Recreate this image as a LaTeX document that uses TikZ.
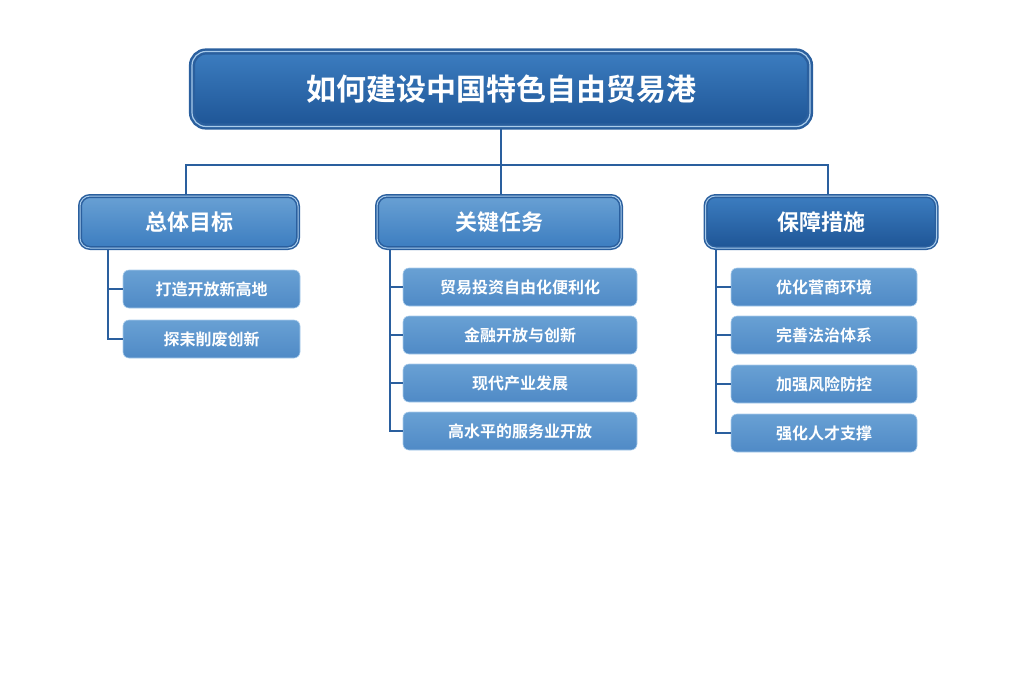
\documentclass[tikz,border=0pt]{standalone}
\usepackage{fontspec}
\setmainfont{Noto Sans CJK SC Bold}
\definecolor{darkb}{HTML}{1E5596}
\definecolor{midb}{HTML}{3C7DC0}
\definecolor{itemb}{HTML}{5896CF}
\definecolor{lineb}{HTML}{2A5F9E}
\definecolor{rimb}{HTML}{A9CCEB}
\begin{document}
\begin{tikzpicture}[x=1pt,y=-1pt,
  titlebox/.style = {draw=lineb, line width=2.5pt, double=rimb, double distance=1.2pt, rounded corners=14pt, top color=midb, bottom color=darkb, text=white, font=\fontsize{30}{34}\selectfont, minimum width=618pt, minimum height=75pt},
  catbox/.style = {draw=lineb, line width=1.5pt, double=rimb, double distance=1pt, rounded corners=10pt, top color=itemb!90, bottom color=midb, text=white, font=\fontsize{22}{26}\selectfont, minimum height=52pt},
  itembox/.style = {draw=rimb, line width=0.6pt, rounded corners=6pt, top color=itemb!90, bottom color=midb!90, text=white, font=\fontsize{16}{20}\selectfont, minimum height=38pt},
  link/.style = {lineb, line width=2.5pt}]
  \useasboundingbox (0,0) rectangle (1024,683);
  \node[titlebox] (t) at (501,89) {如何建设中国特色自由贸易港};
  \node[catbox, minimum width=218pt] (c1) at (189,222) {总体目标};
  \node[catbox, minimum width=244pt] (c2) at (499,222) {关键任务};
  \node[catbox, minimum width=231pt, top color=midb, bottom color=darkb] (c3) at (821,222) {保障措施};
  \coordinate (h) at (501,165);
  \draw[link] (t.south) -- (h);
  \draw[link] (c1.north -| 186,0) |- (h) -| (c3.north -| 828,0);
  \draw[link] (h) -- (c2.north -| 501,0);
  % items
  \node[itembox, minimum width=177pt] (a1) at (211.5,289) {打造开放新高地};
  \node[itembox, minimum width=177pt] (a2) at (211.5,339) {探耒削废创新};
  \node[itembox, minimum width=234pt] (b1) at (520,287) {贸易投资自由化便利化};
  \node[itembox, minimum width=234pt] (b2) at (520,335) {金融开放与创新};
  \node[itembox, minimum width=234pt] (b3) at (520,383) {现代产业发展};
  \node[itembox, minimum width=234pt] (b4) at (520,431) {高水平的服务业开放};
  \node[itembox, minimum width=186pt] (d1) at (824,287) {优化菅商环境};
  \node[itembox, minimum width=186pt] (d2) at (824,335) {完善法治体系};
  \node[itembox, minimum width=186pt] (d3) at (824,384) {加强风险防控};
  \node[itembox, minimum width=186pt] (d4) at (824,433) {强化人才支撑};
  \draw[link] (c1.south -| 108,0) |- (a2.west);
  \draw[link] (108,289) -- (a1.west);
  \draw[link] (c2.south -| 390,0) |- (b4.west);
  \foreach \n in {b1,b2,b3} \draw[link] (\n.west -| 390,0) -- (\n.west);
  \draw[link] (c3.south -| 716,0) |- (d4.west);
  \foreach \n in {d1,d2,d3} \draw[link] (\n.west -| 716,0) -- (\n.west);
\end{tikzpicture}
\end{document}
